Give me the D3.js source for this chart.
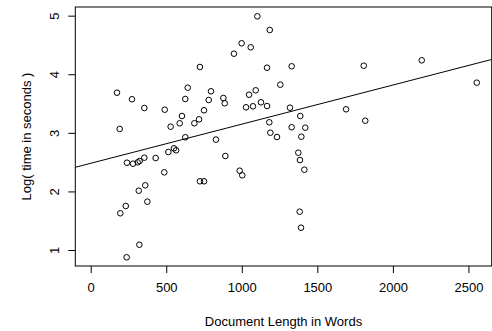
<!DOCTYPE html>
<html>
<head>
<meta charset="utf-8">
<script src="https://cdn.jsdelivr.net/npm/d3@7"></script>
<style>
  body { margin: 0; background: #fff; }
  svg text { font-family: "Liberation Sans", Arial, Helvetica, sans-serif; fill: #000; }
</style>
</head>
<body>
<div id="scatter"></div>
<script>
// Document length (words) for each observation
const docLength = [
  174, 192, 273, 355, 490, 529, 589, 604, 626, 642,
  626, 686, 717, 723, 750, 781, 796, 829, 878, 887,
  948, 999, 1028, 1048, 1059, 1074, 1092, 1103, 1127, 1167,
  1167, 1185, 1182, 1189, 1233, 1255, 1330, 1807, 2191, 2555,
  1690, 1817, 1319, 1387, 1330, 1420, 1394, 1374, 1385, 1414,
  1383, 1392, 240, 280, 311, 324, 355, 430, 514, 551,
  565, 487, 891, 986, 1003, 723, 750, 361, 318, 232,
  196, 375, 322, 238
];

// Log( time in seconds ) for each observation
const logTime = [
  3.685, 3.066, 3.573, 3.424, 3.395, 3.105, 3.163, 3.287, 3.578, 3.771,
  2.924, 3.163, 3.231, 4.124, 3.385, 3.561, 3.709, 2.885, 3.595, 3.504,
  4.351, 4.529, 3.436, 3.651, 4.460, 3.453, 3.726, 4.989, 3.521, 3.458,
  4.112, 4.756, 3.180, 3.002, 2.929, 3.822, 4.136, 4.146, 4.238, 3.856,
  3.402, 3.207, 3.429, 3.287, 3.095, 3.088, 2.934, 2.661, 2.536, 2.371,
  1.654, 1.381, 2.490, 2.473, 2.497, 2.519, 2.576, 2.570, 2.673, 2.736,
  2.702, 2.326, 2.605, 2.354, 2.275, 2.173, 2.173, 2.104, 2.012, 1.751,
  1.627, 1.825, 1.090, 0.875
];

const xTicks = [0, 500, 1000, 1500, 2000, 2500];
const yTicks = [1, 2, 3, 4, 5];

// fitted line: intercept, slope
const fitCoef = [2.48, 0.000668];

/**
 * set the dimensions and margins of the graph
 */
function graphDimensions() {
  const margin = {top: 7, right: 0.3, bottom: 65, left: 75.3};
  const width = 492 - margin.left - margin.right;
  const height = 331 - margin.top - margin.bottom;
  return [width, height, margin];
}

function appendToDom(width, height, margin) {
  return d3.select("#scatter").append("svg")
    .attr("width", width + margin.left + margin.right)
    .attr("height", height + margin.top + margin.bottom)
    .append("g")
    .attr("transform", "translate(" + margin.left + "," + margin.top + ")");
}

function drawBox(svg, width, height) {
  svg.append("rect")
    .attr("x", 0).attr("y", 0)
    .attr("width", width).attr("height", height)
    .attr("fill", "none")
    .attr("stroke", "#000")
    .attr("stroke-width", 1);
}

function drawXAxis(svg, x, height) {
  const g = svg.append("g")
    .attr("transform", "translate(0," + height + ")")
    .call(d3.axisBottom(x).tickValues(xTicks).tickFormat(d3.format("d"))
      .tickSize(7).tickSizeOuter(0).tickPadding(10));
  g.select(".domain").remove();
  g.selectAll("line").attr("stroke", "#000");
  g.selectAll("text").style("font-size", "13px").attr("fill", "#000");
}

function drawYAxis(svg, y) {
  const g = svg.append("g")
    .call(d3.axisLeft(y).tickValues(yTicks).tickFormat(d3.format("d"))
      .tickSize(7).tickSizeOuter(0));
  g.select(".domain").remove();
  g.selectAll("line").attr("stroke", "#000");
  g.selectAll("text")
    .attr("transform", "rotate(-90)")
    .attr("x", 0)
    .attr("y", -21.3)
    .attr("dy", "0.35em")
    .attr("text-anchor", "middle")
    .style("font-size", "13px")
    .attr("fill", "#000");
}

function labelXName(svg, width, height) {
  svg.append("text")
    .attr("text-anchor", "middle")
    .attr("x", width / 2)
    .attr("y", height + 60)
    .style("font-size", "13px")
    .text("Document Length in Words");
}

function labelYName(svg, height) {
  svg.append("text")
    .attr("text-anchor", "middle")
    .attr("transform", "translate(" + (-49.3) + "," + (height / 2) + ")rotate(-90)")
    .attr("dy", "0.35em")
    .style("font-size", "13px")
    .text("Log( time in seconds )");
}

function drawFitLine(svg, x, y) {
  const [lo, hi] = x.domain();
  const pts = [lo, hi].map(v => [v, fitCoef[0] + fitCoef[1] * v]);
  svg.append("path")
    .datum(pts)
    .attr("fill", "none")
    .attr("stroke", "#000")
    .attr("stroke-width", 1)
    .attr("d", d3.line().x(d => x(d[0])).y(d => y(d[1])));
}

function plotCircles(svg, x, y) {
  svg.selectAll("circle.pt")
    .data(d3.zip(docLength, logTime))
    .enter()
    .append("circle")
      .attr("class", "pt")
      .attr("fill", "none")
      .attr("stroke", "#000")
      .attr("stroke-width", 1)
      .attr("cx", d => x(d[0]))
      .attr("cy", d => y(d[1]))
      .attr("r", 2.8);
}

function drawGraph() {
  const [width, height, margin] = graphDimensions();
  const svg = appendToDom(width, height, margin);
  const x = d3.scaleLinear().domain([-101.9, 2653.9]).range([0, width]);
  const y = d3.scaleLinear().domain([0.727, 5.148]).range([height, 0]);
  drawBox(svg, width, height);
  drawXAxis(svg, x, height);
  drawYAxis(svg, y);
  labelXName(svg, width, height);
  labelYName(svg, height);
  drawFitLine(svg, x, y);
  plotCircles(svg, x, y);
}

drawGraph();
</script>
</body>
</html>
